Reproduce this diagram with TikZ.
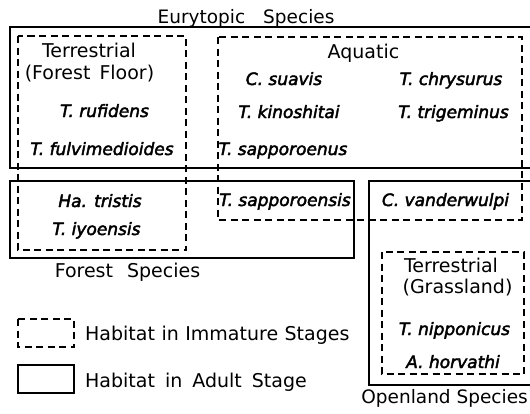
\documentclass[tikz,border=0pt]{standalone}
\usepackage{fontspec}
\setmainfont{DejaVu Sans}
\newfontfamily\labfont{DejaVu Sans}
\newfontfamily\spfont[ItalicFeatures={FakeBold=2.5}]{DejaVu Sans}
\begin{document}
\begin{tikzpicture}[x=1pt,y=-1pt,
  solidbox/.style={draw,line width=1.3pt},
  dashbox/.style={draw,line width=1.4pt,dash pattern=on 7pt off 4.5pt},
  lab/.style={inner sep=0pt,anchor=base,font=\labfont\fontsize{19}{22}\selectfont},
  sp/.style={inner sep=0pt,anchor=base,font=\spfont\itshape\fontsize{17}{20}\selectfont},
  wsp/.style={execute at begin node={\spaceskip=#1\relax}}]
\useasboundingbox (0,0) rectangle (530,413);
% solid boxes (adult habitat)
\draw[solidbox] (10,27) rectangle (533,168);
\draw[solidbox] (10,181) rectangle (354,258);
\draw[solidbox] (369,181) rectangle (533,385);
% dashed boxes (immature habitat)
\draw[dashbox] (18,36) rectangle (186,250);
\draw[dashbox] (218,37) rectangle (522,220);
\draw[dashbox] (382,252) rectangle (524,374);
% legend
\draw[dashbox] (18,319) rectangle (74,347);
\draw[solidbox] (18,365) rectangle (74,393);
% labels
\node[lab,font=\labfont\fontsize{18.5}{22}\selectfont,wsp=18pt] (eury) at (246,23) {Eurytopic Species};
\node[lab] (tff) at (89,57) {Terrestrial};
\node[lab,wsp=9pt] (ff) at (89.5,79) {(Forest Floor)};
\node[sp] (ruf) at (104.5,117) {T. rufidens};
\node[sp] (fulv) at (102,155) {T. fulvimedioides};
\node[lab] (aq) at (363.5,58) {Aquatic};
\node[sp] (suav) at (284,85) {C. suavis};
\node[sp] (chry) at (451,85) {T. chrysurus};
\node[sp] (kino) at (289,118) {T. kinoshitai};
\node[sp] (trig) at (453.5,118) {T. trigeminus};
\node[sp] (sapnus) at (283,155) {T. sapporoenus};
\node[sp] (tris) at (100,207) {Ha. tristis};
\node[sp] (iyo) at (96.5,235) {T. iyoensis};
\node[sp] (sapsis) at (285,206) {T. sapporoensis};
\node[sp] (vand) at (445.5,206) {C. vanderwulpi};
\node[lab,wsp=14pt] (fsp) at (127.5,277) {Forest Species};
\node[lab] (tgr) at (451,272) {Terrestrial};
\node[lab] (gr) at (457.5,293) {(Grassland)};
\node[sp] (nipp) at (454.5,335) {T. nipponicus};
\node[sp] (horv) at (453,368) {A. horvathi};
\node[lab,font=\labfont\fontsize{18.5}{22}\selectfont,anchor=base east] (osp) at (528,403) {Openland Species};
\node[lab,anchor=base west,wsp=6.5pt] (leg1) at (85,340) {Habitat in Immature Stages};
\node[lab,anchor=base west,wsp=10pt] (leg2) at (85,387) {Habitat in Adult Stage};
\end{tikzpicture}
\end{document}
